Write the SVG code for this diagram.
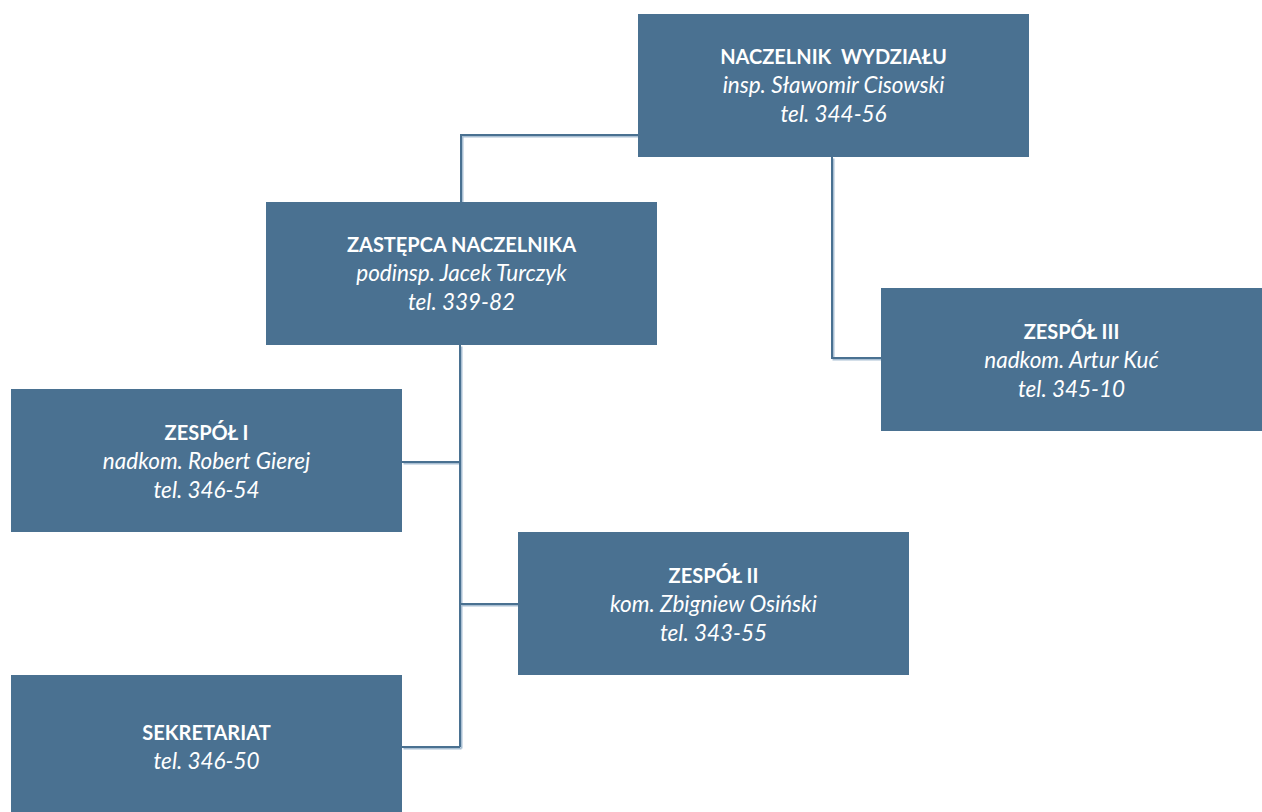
<svg xmlns="http://www.w3.org/2000/svg" width="1262" height="812" viewBox="0 0 1262 812">
<style>
.box{fill:#4A7191}
.t{font-family:Lato,"Open Sans","Liberation Sans",sans-serif;fill:#fff;text-anchor:middle;white-space:pre}
.b{font-weight:bold;font-size:20px}
.i{font-style:italic;font-size:22.5px}
.ln{fill:none;stroke:#4A7191;stroke-width:2}
.sh{fill:none;stroke:#A9BFD3;stroke-width:2}
</style>
<rect width="1262" height="812" fill="#fff"/>
<g id="connectors">
<g transform="translate(1.5,1.5)">
<path class="sh" d="M638,135H461V202"/>
<path class="sh" d="M832,157V358H881"/>
<path class="sh" d="M460,345V747"/>
<path class="sh" d="M402,462H460"/>
<path class="sh" d="M460,604H518"/>
<path class="sh" d="M402,747H460"/>
</g>
<path class="ln" d="M638,135H461V202"/>
<path class="ln" d="M832,157V358H881"/>
<path class="ln" d="M460,345V747"/>
<path class="ln" d="M402,462H460"/>
<path class="ln" d="M460,604H518"/>
<path class="ln" d="M402,747H460"/>
</g>
<g id="naczelnik">
<rect class="box" x="638" y="14" width="391" height="143"/>
<text class="t b" x="833.5" y="64" xml:space="preserve">NACZELNIK  WYDZIAŁU</text>
<text class="t i" x="833.5" y="93">insp. Sławomir Cisowski</text>
<text class="t i" x="833.5" y="122">tel. 344-56</text>
</g>
<g id="zastepca">
<rect class="box" x="266" y="202" width="391" height="143"/>
<text class="t b" x="461.5" y="252">ZASTĘPCA NACZELNIKA</text>
<text class="t i" x="461.5" y="281">podinsp. Jacek Turczyk</text>
<text class="t i" x="461.5" y="310">tel. 339-82</text>
</g>
<g id="zespol1">
<rect class="box" x="11" y="389" width="391" height="143"/>
<text class="t b" x="206.5" y="440">ZESPÓŁ I</text>
<text class="t i" x="206.5" y="469">nadkom. Robert Gierej</text>
<text class="t i" x="206.5" y="498">tel. 346-54</text>
</g>
<g id="zespol2">
<rect class="box" x="518" y="532" width="391" height="143"/>
<text class="t b" x="713.5" y="583">ZESPÓŁ II</text>
<text class="t i" x="713.5" y="612">kom. Zbigniew Osiński</text>
<text class="t i" x="713.5" y="641">tel. 343-55</text>
</g>
<g id="zespol3">
<rect class="box" x="881" y="288" width="381" height="143"/>
<text class="t b" x="1071.5" y="339">ZESPÓŁ III</text>
<text class="t i" x="1071.5" y="368">nadkom. Artur Kuć</text>
<text class="t i" x="1071.5" y="397">tel. 345-10</text>
</g>
<g id="sekretariat">
<rect class="box" x="11" y="675" width="391" height="137"/>
<text class="t b" x="206.5" y="740">SEKRETARIAT</text>
<text class="t i" x="206.5" y="769">tel. 346-50</text>
</g>
</svg>
